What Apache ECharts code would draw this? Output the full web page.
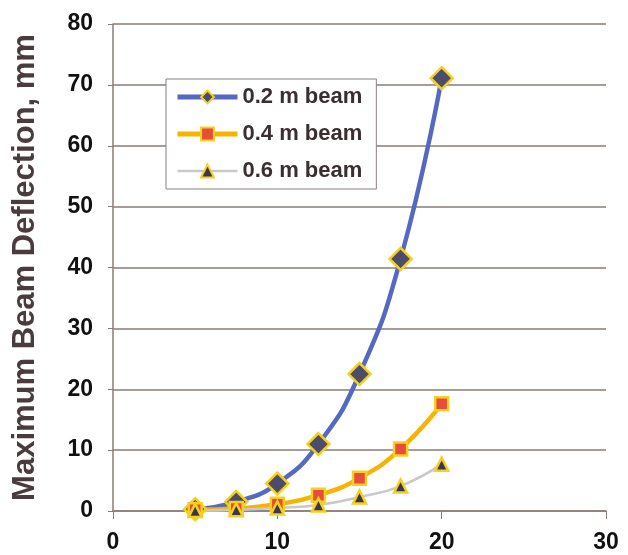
<!DOCTYPE html>
<html><head><meta charset="utf-8">
<script src="https://cdn.jsdelivr.net/npm/echarts@6/dist/echarts.min.js"></script>
<style>html,body{margin:0;padding:0;background:#fff}#c{width:628px;height:555px}</style>
</head><body><div id="c"></div>
<script>
var xValues = [5, 7.5, 10, 12.5, 15, 17.5, 20];
var beam02 = [0.3, 1.5, 4.5, 11, 22.5, 41.4, 71.1];
var beam04 = [0.2, 0.4, 1.1, 2.6, 5.4, 10.2, 17.6];
var beam06 = [0.1, 0.2, 0.5, 1.0, 2.3, 4.1, 7.7];
var seriesNames = ['0.2 m beam', '0.4 m beam', '0.6 m beam'];
var yTitle = 'Maximum Beam Deflection, mm';

function pairs(ys){ return xValues.map(function(x,i){ return [x, ys[i]]; }); }

var chart = echarts.init(document.getElementById('c'));
var gridColor = '#8a7d76';
var legendLineWidths = [5, 5, 2.5];
chart.setOption({
  backgroundColor: '#fff',
  animation: false,
  grid: { left: 113, right: 22, top: 24, bottom: 44 },
  legend: {
    left: 166, top: 79, orient: 'vertical',
    itemWidth: 60, itemHeight: 16, itemGap: 15,
    padding: [7, 14, 7, 9],
    borderColor: '#8a8080', borderWidth: 1, backgroundColor: '#fff',
    textStyle: { fontFamily: 'Liberation Sans, Arial, sans-serif', fontWeight: 'bold', fontSize: 22, color: '#3a2f30' },
    data: seriesNames.map(function(n, i){ return { name: n, lineStyle: { width: legendLineWidths[i] } }; })
  },
  xAxis: {
    type: 'value', min: 0, max: 30, interval: 10,
    axisLine: { show: true, onZero: false, lineStyle: { color: gridColor, width: 1.5 } },
    axisTick: { show: true, length: 8, lineStyle: { color: gridColor } },
    splitLine: { show: false },
    axisLabel: { margin: 20, color: '#111', fontFamily: 'Liberation Sans, Arial, sans-serif', fontWeight: 'bold', fontSize: 23 }
  },
  yAxis: {
    type: 'value', min: 0, max: 80, interval: 10,
    name: yTitle, nameLocation: 'middle', nameGap: 72,
    nameTextStyle: { fontFamily: 'Liberation Sans, Arial, sans-serif', fontWeight: 'bold', fontSize: 31, color: '#4a3c3e' },
    axisLine: { show: true, lineStyle: { color: gridColor, width: 1.5 } },
    axisTick: { show: true, length: 5, lineStyle: { color: gridColor } },
    splitLine: { show: true, lineStyle: { color: gridColor, width: 1.5 } },
    axisLabel: { margin: 20, color: '#111', fontFamily: 'Liberation Sans, Arial, sans-serif', fontWeight: 'bold', fontSize: 23 }
  },
  series: [
    { name: seriesNames[0], type: 'line', smooth: true, data: pairs(beam02),
      symbol: 'diamond', symbolSize: 22,
      lineStyle: { color: '#5668c0', width: 4.5 },
      itemStyle: { color: '#4d4c6c', borderColor: '#f4d11c', borderWidth: 2.5 } },
    { name: seriesNames[1], type: 'line', smooth: true, data: pairs(beam04),
      symbol: 'rect', symbolSize: 13,
      lineStyle: { color: '#f5b400', width: 4.5 },
      itemStyle: { color: '#e84c3a', borderColor: '#f4d11c', borderWidth: 2.5 } },
    { name: seriesNames[2], type: 'line', smooth: true, data: pairs(beam06),
      symbol: 'triangle', symbolSize: 13,
      lineStyle: { color: '#c9c9c9', width: 2.5 },
      itemStyle: { color: '#3d3550', borderColor: '#f4d11c', borderWidth: 2.5 } }
  ]
});
</script></body></html>
